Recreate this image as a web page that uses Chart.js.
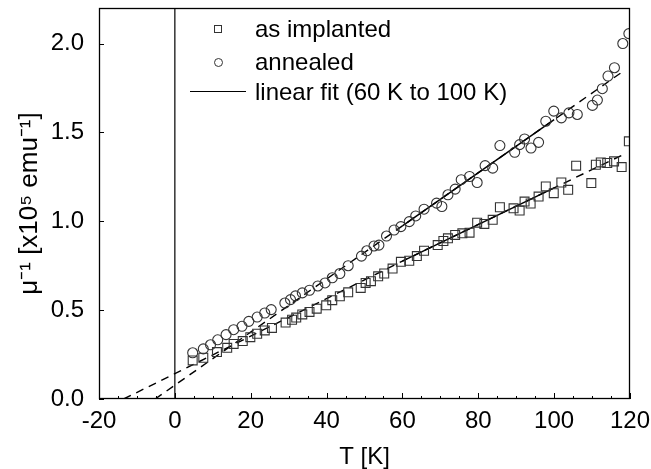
<!DOCTYPE html>
<html>
<head>
<meta charset="utf-8">
<script src="https://cdn.jsdelivr.net/npm/chart.js@4.4.0/dist/chart.umd.min.js"></script>
<style>
  html, body { margin: 0; padding: 0; background: #fff; }
  #wrap { position: relative; width: 651px; height: 469px; }
  #legend-container { position: absolute; left: 0; top: 0; font-family: "Liberation Sans", Arial, sans-serif; font-size: 24px; color: #000; }
  .legend-item { position: absolute; left: 190px; height: 30px; display: flex; align-items: center; white-space: nowrap; }
  .legend-mark { width: 56px; height: 30px; position: relative; margin-right: 9px; }
  .legend-mark .sq { position: absolute; left: 24px; top: 11px; width: 8px; height: 8px; border: 1px solid #333; box-sizing: border-box; }
  .legend-mark .ci { position: absolute; left: 24px; top: 11px; width: 9px; height: 9px; border: 1px solid #333; border-radius: 50%; box-sizing: border-box; }
  .legend-mark .ln { position: absolute; left: 0; top: 14px; width: 56px; border-top: 1.5px solid #000; }
</style>
</head>
<body>
<div id="wrap">
  <canvas id="muChart" width="651" height="469"></canvas>
  <div id="legend-container"></div>
</div>
<script>
// as implanted (squares)
const implantedT = [4.7, 7.5, 11.1, 13.8, 15.5, 17.9, 19.9, 21.7, 23.7, 25.6, 29.2, 30.9, 32, 33.6, 35.5, 37.4, 39.9, 41.5, 43.5, 45.7,
    49, 50.3, 51.7, 53.6, 55.2, 57.4, 59.6, 61.8, 63.8, 65.7, 69.3, 70.8, 72, 73.9, 75.8, 77.7, 79.7, 81.6, 83.8, 85.7,
    89.3, 90.9, 92.2, 93.8, 95.9, 97.8, 99.9, 101.9, 103.7, 105.8, 109.8, 111, 112.3, 114, 115.8, 117.8, 119.7];
const implantedMu = [0.217, 0.232, 0.264, 0.288, 0.31, 0.326, 0.348, 0.367, 0.386, 0.40, 0.43, 0.446, 0.458, 0.476, 0.49, 0.508, 0.527, 0.556, 0.578, 0.60,
    0.625, 0.653, 0.663, 0.69, 0.706, 0.734, 0.772, 0.778, 0.804, 0.834, 0.866, 0.889, 0.904, 0.923, 0.932, 0.936, 0.992, 0.985, 1.008, 1.079,
    1.073, 1.06, 1.111, 1.10, 1.139, 1.196, 1.158, 1.218, 1.177, 1.313, 1.215, 1.318, 1.331, 1.328, 1.337, 1.305, 1.45];

// annealed (circles)
const annealedT = [4.7, 7.5, 9.4, 11.3, 13.5, 15.5, 17.7, 19.5, 21.7, 23.7, 25.4, 29, 30.5, 31.8, 33.6, 35.5, 37.7, 39.6, 41.5, 43.5,
    45.7, 49.2, 50.6, 52.5, 53.8, 55.8, 57.8, 59.6, 61.8, 63.5, 65.7, 69, 70.4, 72, 73.9, 75.5, 77.7, 79.7, 81.8, 83.8,
    85.7, 89.6, 90.9, 92.2, 93.9, 95.9, 97.8, 99.9, 101.9, 103.9, 106.1, 110.1, 111.4, 112.7, 114.2, 115.9, 118.1, 119.7];
const annealedMu = [0.26, 0.282, 0.305, 0.333, 0.362, 0.39, 0.409, 0.437, 0.461, 0.484, 0.503, 0.54, 0.559, 0.58, 0.597, 0.612, 0.636, 0.653, 0.682, 0.706,
    0.75, 0.804, 0.834, 0.861, 0.866, 0.917, 0.951, 0.97, 0.998, 1.03, 1.068, 1.102, 1.083, 1.149, 1.181, 1.234, 1.252, 1.218, 1.313, 1.299,
    1.426, 1.388, 1.431, 1.463, 1.412, 1.444, 1.563, 1.62, 1.582, 1.61, 1.601, 1.652, 1.682, 1.746, 1.817, 1.864, 2.0, 2.056];

// linear fits: extrapolated (dashed) end points, solid part is 60 K to 100 K
const fitImplantedT = [-13.5, 60, 100, 118];
const fitImplantedMu = [0, 0.776, 1.188, 1.373];
const fitAnnealedT = [-5.2, 60, 100, 118];
const fitAnnealedMu = [0, 0.974, 1.572, 1.841];

// vertical line at T = 0
const zeroLineT = [0, 0];
const zeroLineMu = [0, 2.2];

const xTickValues = [-20, 0, 20, 40, 60, 80, 100, 120];
const xMinorTicks = [-15, -10, -5, 5, 10, 15, 25, 30, 35, 45, 50, 55, 65, 70, 75, 85, 90, 95, 105, 110, 115];
const yTickValues = [0, 0.5, 1.0, 1.5, 2.0];

const legendLabels = ['as implanted', 'annealed', 'linear fit (60 K to 100 K)'];

function toPoints(xs, ys) {
    return xs.map((x, i) => ({ x: x, y: ys[i] }));
}

Chart.defaults.font.family = '"Liberation Sans", Arial, sans-serif';
Chart.defaults.font.size = 24;
Chart.defaults.color = '#000';

// frame + inward tick marks
const frameTicks = {
    id: 'frameTicks',
    afterDatasetsDraw(c) {
        const g = c.ctx;
        const a = c.chartArea;
        const xs = c.scales.x;
        const ys = c.scales.y;
        g.save();
        g.strokeStyle = '#000';
        g.lineWidth = 1;
        g.setLineDash([]);
        g.beginPath();
        xTickValues.forEach(v => {
            const px = Math.round(xs.getPixelForValue(v)) + 0.5;
            g.moveTo(px, a.bottom); g.lineTo(px, a.bottom - 6);
        });
        xMinorTicks.forEach(v => {
            const px = Math.round(xs.getPixelForValue(v)) + 0.5;
            g.moveTo(px, a.bottom); g.lineTo(px, a.bottom - 3);
        });
        yTickValues.forEach(v => {
            const py = Math.round(ys.getPixelForValue(v)) + 0.5;
            g.moveTo(a.left, py); g.lineTo(a.left + 5, py);
        });
        g.stroke();
        g.lineWidth = 1.3;
        g.strokeRect(Math.round(a.left) + 0.5, Math.round(a.top) + 0.5, Math.round(a.right - a.left) - 1, Math.round(a.bottom - a.top) - 1);
        g.restore();
    }
};

const chart = new Chart(document.getElementById('muChart'), {
    type: 'scatter',
    data: {
        datasets: [
            {
                label: legendLabels[0],
                data: toPoints(implantedT, implantedMu),
                pointStyle: 'rect',
                pointRadius: 6.3,
                borderColor: '#333',
                backgroundColor: 'transparent',
                borderWidth: 1.1
            },
            {
                label: legendLabels[1],
                data: toPoints(annealedT, annealedMu),
                pointStyle: 'circle',
                pointRadius: 5,
                borderColor: '#333',
                backgroundColor: 'transparent',
                borderWidth: 1.1
            },
            {
                label: 'fit implanted solid',
                data: toPoints(fitImplantedT.slice(1, 3), fitImplantedMu.slice(1, 3)),
                showLine: true, pointRadius: 0, borderColor: '#000', borderWidth: 1.5
            },
            {
                label: 'fit annealed solid',
                data: toPoints(fitAnnealedT.slice(1, 3), fitAnnealedMu.slice(1, 3)),
                showLine: true, pointRadius: 0, borderColor: '#000', borderWidth: 1.5
            },
            {
                label: 'fit implanted dashed',
                data: toPoints(fitImplantedT, fitImplantedMu),
                showLine: true, pointRadius: 0, borderColor: '#000', borderWidth: 1.4, borderDash: [8, 6]
            },
            {
                label: 'fit annealed dashed',
                data: toPoints(fitAnnealedT, fitAnnealedMu),
                showLine: true, pointRadius: 0, borderColor: '#000', borderWidth: 1.4, borderDash: [8, 6]
            },
            {
                label: 'T = 0',
                data: toPoints(zeroLineT, zeroLineMu),
                showLine: true, pointRadius: 0, borderColor: '#000', borderWidth: 1.2
            }
        ]
    },
    options: {
        responsive: false,
        animation: false,
        layout: { padding: { top: 8, right: 21, left: 0, bottom: 0 } },
        plugins: {
            legend: { display: false },
            tooltip: { enabled: false }
        },
        scales: {
            x: {
                type: 'linear',
                min: -20,
                max: 120,
                afterBuildTicks: s => { s.ticks = xTickValues.map(v => ({ value: v })); },
                afterFit: s => { s.height = 70; s.paddingLeft = 0; s.paddingRight = 0; },
                grid: { display: false },
                border: { display: false },
                ticks: { padding: 0, maxRotation: 0, autoSkip: false },
                title: { display: true, text: 'T [K]', font: { size: 24, lineHeight: 1.0 }, padding: { top: 0, bottom: 0 } }
            },
            y: {
                type: 'linear',
                min: 0,
                max: 2.2,
                afterBuildTicks: s => { s.ticks = yTickValues.map(v => ({ value: v })); },
                afterFit: s => { s.width = 99; s.paddingTop = 0; s.paddingBottom = 0; },
                grid: { display: false },
                border: { display: false },
                ticks: { padding: 7, callback: v => Number(v).toFixed(1) },
                title: { display: true, text: 'μ⁻¹ [x10⁵ emu⁻¹]', font: { size: 26 }, padding: { top: 14, bottom: 0 } }
            }
        }
    },
    plugins: [frameTicks]
});

// legend inside the plot
function updateLegend() {
    const legendContainer = document.getElementById('legend-container');
    legendContainer.innerHTML = '';
    const marks = ['<div class="sq"></div>', '<div class="ci"></div>', '<div class="ln"></div>'];
    const tops = [14, 47, 77];
    legendLabels.forEach((text, i) => {
        const item = document.createElement('div');
        item.className = 'legend-item';
        item.style.top = tops[i] + 'px';
        const mark = document.createElement('div');
        mark.className = 'legend-mark';
        mark.innerHTML = marks[i];
        const label = document.createElement('span');
        label.textContent = text;
        item.appendChild(mark);
        item.appendChild(label);
        legendContainer.appendChild(item);
    });
}
updateLegend();
</script>
</body>
</html>
